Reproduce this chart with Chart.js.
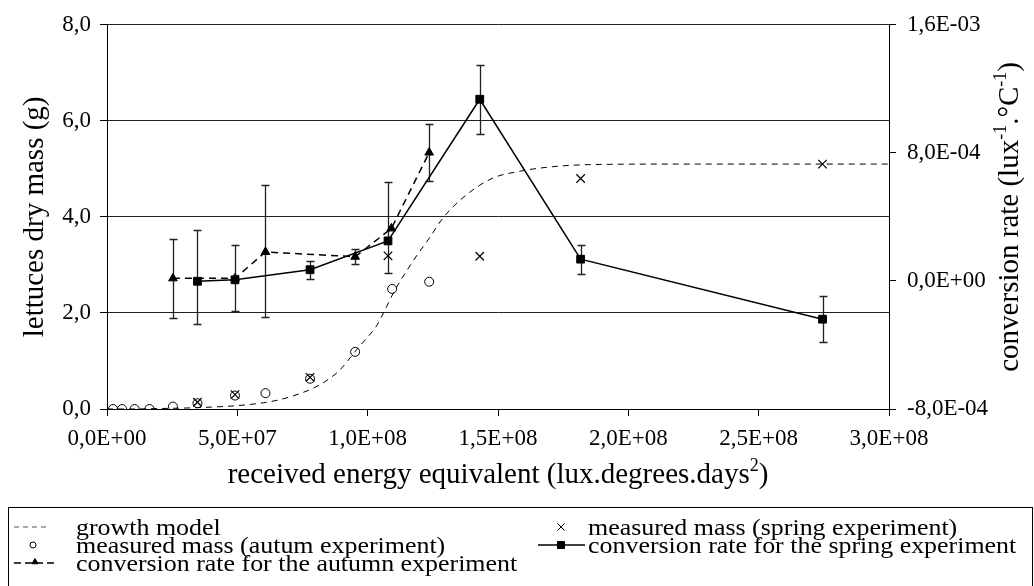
<!DOCTYPE html>
<html>
<head>
<meta charset="utf-8">
<script src="https://cdn.jsdelivr.net/npm/chart.js@4.4.0/dist/chart.umd.min.js"></script>
<style>
  html, body { margin: 0; padding: 0; background: #fff; }
  #wrap { width: 1034px; height: 586px; }
</style>
</head>
<body>
<div id="wrap"><canvas id="chart" width="1034" height="586"></canvas></div>
<script>
// tick labels
const xTickLabels = ['0,0E+00', '5,0E+07', '1,0E+08', '1,5E+08', '2,0E+08', '2,5E+08', '3,0E+08'];
const massTickLabels = ['0,0', '2,0', '4,0', '6,0', '8,0'];
const rateTickLabels = ['-8,0E-04', '0,0E+00', '8,0E-04', '1,6E-03'];

// growth model (g)
const growthX = [0, 1e7, 2e7, 3e7, 4e7, 5e7, 6e7, 6.6e7, 7e7, 7.9e7, 8.5e7, 8.93e7, 9.57e7, 1.0e8, 1.034e8, 1.066e8, 1.104e8, 1.174e8, 1.238e8, 1.289e8, 1.379e8, 1.481e8, 1.583e8, 1.7e8, 1.86e8, 2.2e8, 2.6e8, 3.0e8];
const growthY = [0, 0, 0.01, 0.02, 0.04, 0.07, 0.13, 0.19, 0.25, 0.43, 0.62, 0.81, 1.23, 1.5, 1.73, 2.06, 2.47, 3.08, 3.57, 3.98, 4.46, 4.81, 4.95, 5.04, 5.09, 5.1, 5.1, 5.1];

// measured mass, autumn (g)
const autumnMassX = [2.3e6, 5.8e6, 1.06e7, 1.63e7, 2.53e7, 3.47e7, 4.91e7, 6.08e7, 7.79e7, 9.52e7, 1.094e8, 1.236e8];
const autumnMassY = [0.0, 0.0, 0.0, 0.0, 0.05, 0.12, 0.28, 0.33, 0.63, 1.19, 2.50, 2.65];

// measured mass, spring (g)
const springMassX = [3.47e7, 4.91e7, 7.79e7, 1.078e8, 1.43e8, 1.817e8, 2.745e8];
const springMassY = [0.14, 0.30, 0.66, 3.19, 3.18, 4.80, 5.10];

// conversion rate, spring (lux-1.°C-1)
const springRateX = [3.47e7, 4.91e7, 7.79e7, 1.078e8, 1.43e8, 1.817e8, 2.745e8];
const springRate = [-0.02e-4, 0.07e-4, 0.70e-4, 2.50e-4, 11.35e-4, 1.36e-4, -2.39e-4];
const springRateHigh = [3.16e-4, 2.26e-4, 1.24e-4, 6.16e-4, 13.51e-4, 2.26e-4, -0.92e-4];
const springRateLow = [-2.72e-4, -1.85e-4, 0.13e-4, 0.52e-4, 9.16e-4, 0.46e-4, -3.83e-4];

// conversion rate, autumn
const autumnRateX = [2.53e7, 4.91e7, 6.08e7, 9.52e7, 1.091e8, 1.236e8];
const autumnRate = [0.16e-4, 0.16e-4, 1.81e-4, 1.51e-4, 3.28e-4, 8.02e-4];
const autumnRateHigh = [2.59e-4, null, 6.01e-4, 1.99e-4, null, 9.82e-4];
const autumnRateLow = [-2.33e-4, null, -2.27e-4, 1.06e-4, null, 6.22e-4];

function pts(xs, ys) {
    return xs.map((x, i) => ({x: x, y: ys[i]}));
}

const FONT = 'Liberation Serif';
Chart.defaults.font.family = FONT;
Chart.defaults.color = '#000';

const errorBars = {
    id: 'errorBars',
    beforeDatasetsDraw(chart) {
        const ctx = chart.ctx;
        const xs = chart.scales.x;
        chart.data.datasets.forEach(ds => {
            if (!ds.errHigh) return;
            const ys = chart.scales[ds.yAxisID];
            ds.data.forEach((p, j) => {
                const hi = ds.errHigh[j], lo = ds.errLow[j];
                if (hi == null) return;
                const x = Math.round(xs.getPixelForValue(p.x)) + 0.5;
                const y1 = Math.round(ys.getPixelForValue(hi)) + 0.5;
                const y2 = Math.round(ys.getPixelForValue(lo)) + 0.5;
                ctx.save();
                ctx.strokeStyle = '#222';
                ctx.lineWidth = 1.3;
                ctx.beginPath();
                ctx.moveTo(x, y1); ctx.lineTo(x, y2);
                ctx.moveTo(x - 4, y1); ctx.lineTo(x + 4, y1);
                ctx.moveTo(x - 4, y2); ctx.lineTo(x + 4, y2);
                ctx.stroke();
                ctx.restore();
            });
        });
    }
};

// draws text runs with superscripts, centred on x
function richText(ctx, parts, x, y, size) {
    const widths = parts.map(p => {
        ctx.font = (p.sup ? size * 0.62 : size) + 'px ' + FONT;
        return ctx.measureText(p.t).width;
    });
    let cx = x - widths.reduce((a, b) => a + b, 0) / 2;
    parts.forEach((p, i) => {
        ctx.font = (p.sup ? size * 0.62 : size) + 'px ' + FONT;
        ctx.fillText(p.t, cx, p.sup ? y - size * 0.42 : y);
        cx += widths[i];
    });
}

// legend text, slightly widened like the original
function legendText(ctx, s, x, y) {
    ctx.save();
    ctx.translate(x, y);
    ctx.scale(1.08, 1);
    ctx.fillText(s, 0, 0);
    ctx.restore();
}

const titlesAndLegend = {
    id: 'titlesAndLegend',
    afterDraw(chart) {
        const ctx = chart.ctx;
        const area = chart.chartArea;
        const midX = (area.left + area.right) / 2;
        const midY = (area.top + area.bottom) / 2;
        ctx.save();
        ctx.fillStyle = '#000';
        ctx.textAlign = 'left';
        ctx.textBaseline = 'alphabetic';

        richText(ctx, [{t: 'received energy equivalent (lux.degrees.days'}, {t: '2', sup: true}, {t: ')'}], midX, 483, 29);

        ctx.save();
        ctx.translate(43, midY);
        ctx.rotate(-Math.PI / 2);
        richText(ctx, [{t: 'lettuces dry mass (g)'}], 0, 0, 29);
        ctx.restore();

        ctx.save();
        ctx.translate(1018, midY);
        ctx.rotate(-Math.PI / 2);
        richText(ctx, [{t: 'conversion rate (lux'}, {t: '-1', sup: true}, {t: '.°C'}, {t: '-1', sup: true}, {t: ')'}], 0, 0, 29);
        ctx.restore();

        // legend
        ctx.strokeStyle = '#000';
        ctx.lineWidth = 1;
        ctx.strokeRect(8.5, 507.5, 1024, 100);
        ctx.font = '24px ' + FONT;
        const rows = [535, 553, 571];
        legendText(ctx, 'growth model', 76, rows[0]);
        legendText(ctx, 'measured mass (autum experiment)', 76, rows[1]);
        legendText(ctx, 'conversion rate for the autumn experiment', 76, rows[2]);
        legendText(ctx, 'measured mass (spring experiment)', 588, rows[0]);
        legendText(ctx, 'conversion rate for the spring experiment', 588, rows[1]);

        // legend symbols
        ctx.strokeStyle = '#555';
        ctx.lineWidth = 1;
        ctx.setLineDash([5, 4]);
        ctx.beginPath(); ctx.moveTo(14, rows[0] - 8); ctx.lineTo(48, rows[0] - 8); ctx.stroke();
        ctx.strokeStyle = '#000';
        ctx.lineWidth = 1.5;
        ctx.setLineDash([7, 4]);
        ctx.beginPath(); ctx.moveTo(14, rows[2] - 8); ctx.lineTo(55, rows[2] - 8); ctx.stroke();
        ctx.setLineDash([]);
        ctx.beginPath(); ctx.moveTo(538, rows[1] - 8); ctx.lineTo(585, rows[1] - 8); ctx.stroke();
        ctx.fillStyle = 'rgba(0,0,0,0)';
        ctx.lineWidth = 1;
        Chart.helpers.drawPoint(ctx, {pointStyle: 'circle', radius: 3, borderWidth: 1}, 33, rows[1] - 8);
        ctx.fillStyle = '#000';
        Chart.helpers.drawPoint(ctx, {pointStyle: 'triangle', radius: 3.5, borderWidth: 1}, 35, rows[2] - 9);
        Chart.helpers.drawPoint(ctx, {pointStyle: 'rect', radius: 5, borderWidth: 1}, 561, rows[1] - 8);
        Chart.helpers.drawPoint(ctx, {pointStyle: 'crossRot', radius: 5, borderWidth: 1}, 561, rows[0] - 8);
        ctx.restore();
    }
};

const ctx = document.getElementById('chart').getContext('2d');
new Chart(ctx, {
    type: 'scatter',
    data: {
        datasets: [
            {
                label: 'growth model',
                data: pts(growthX, growthY),
                yAxisID: 'y',
                showLine: true,
                cubicInterpolationMode: 'monotone',
                borderColor: '#000',
                borderWidth: 1,
                borderDash: [6, 5],
                pointRadius: 0
            },
            {
                label: 'measured mass (autum experiment)',
                data: pts(autumnMassX, autumnMassY),
                yAxisID: 'y',
                pointStyle: 'circle',
                pointRadius: 4.5,
                borderColor: '#000',
                borderWidth: 1,
                backgroundColor: 'transparent'
            },
            {
                label: 'measured mass (spring experiment)',
                data: pts(springMassX, springMassY),
                yAxisID: 'y',
                pointStyle: 'crossRot',
                pointRadius: 6,
                borderColor: '#000',
                borderWidth: 1.2
            },
            {
                label: 'conversion rate for the autumn experiment',
                data: pts(autumnRateX, autumnRate),
                errHigh: autumnRateHigh,
                errLow: autumnRateLow,
                yAxisID: 'y2',
                showLine: true,
                borderColor: '#000',
                borderWidth: 1.5,
                borderDash: [7, 5],
                pointStyle: 'triangle',
                pointRadius: 5,
                pointBorderWidth: 1,
                backgroundColor: '#000'
            },
            {
                label: 'conversion rate for the spring experiment',
                data: pts(springRateX, springRate),
                errHigh: springRateHigh,
                errLow: springRateLow,
                yAxisID: 'y2',
                showLine: true,
                borderColor: '#000',
                borderWidth: 1.5,
                pointStyle: 'rect',
                pointRadius: 5.5,
                pointBorderWidth: 1,
                backgroundColor: '#000'
            }
        ]
    },
    options: {
        responsive: false,
        animation: false,
        devicePixelRatio: 1,
        layout: {padding: {top: 22, left: 0, right: 0, bottom: 0}},
        plugins: {legend: {display: false}, tooltip: {enabled: false}},
        scales: {
            x: {
                type: 'linear',
                position: 'bottom',
                min: 0,
                max: 3e8,
                afterFit: s => { s.height = 177; },
                ticks: {
                    stepSize: 5e7,
                    padding: 9,
                    font: {size: 23},
                    maxRotation: 0,
                    callback: (v, i) => xTickLabels[i]
                },
                grid: {drawOnChartArea: false, drawTicks: true, tickLength: 7, color: '#000'},
                border: {color: '#000', width: 1}
            },
            y: {
                position: 'left',
                min: 0,
                max: 8,
                afterFit: s => { s.width = 107; },
                ticks: {
                    stepSize: 2,
                    padding: 9,
                    font: {size: 23},
                    callback: (v, i) => massTickLabels[i]
                },
                grid: {color: '#222', lineWidth: 1, tickLength: 7, tickColor: '#000'},
                border: {color: '#000', width: 1}
            },
            y2: {
                position: 'right',
                min: -8e-4,
                max: 1.6e-3,
                afterFit: s => { s.width = 145; },
                ticks: {
                    stepSize: 8e-4,
                    padding: 11,
                    font: {size: 23},
                    callback: (v, i) => rateTickLabels[i]
                },
                grid: {drawOnChartArea: false, tickLength: 7, color: '#000'},
                border: {color: '#000', width: 1}
            }
        }
    },
    plugins: [errorBars, titlesAndLegend]
});
</script>
</body>
</html>
